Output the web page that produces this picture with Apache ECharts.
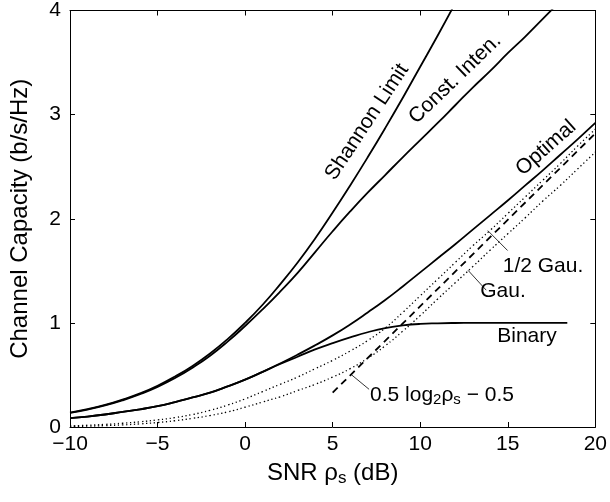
<!DOCTYPE html>
<html>
<head>
<meta charset="utf-8">
<script src="https://cdn.jsdelivr.net/npm/echarts@6/dist/echarts.min.js"></script>
<style>
  html, body { margin: 0; padding: 0; background: #fff; }
  #main { width: 610px; height: 502px; }
</style>
</head>
<body>
<div id="main"></div>
<script>
// x values (SNR in dB), one per dB
var snrDb = [-10, -9, -8, -7, -6, -5, -4, -3, -2, -1, 0, 1, 2, 3, 4, 5, 6, 7, 8, 9, 10,
             11, 12, 13, 14, 15, 16, 17, 18, 19, 20];

// capacities (b/s/Hz)
var shannonLimit = [0.138, 0.172, 0.212, 0.263, 0.323, 0.396, 0.485, 0.587, 0.706, 0.844, 1.0,
                    1.174, 1.37, 1.58, 1.81, 2.06, 2.32, 2.59, 2.87, 3.16, 3.46, 3.76, 4.07];
var constInten = [0.135, 0.168, 0.207, 0.256, 0.315, 0.385, 0.47, 0.57, 0.685, 0.82, 0.97,
                  1.13, 1.30, 1.48, 1.68, 1.88, 2.07, 2.25, 2.42, 2.59, 2.755, 2.92, 3.09,
                  3.26, 3.42, 3.59, 3.75, 3.92, 4.09];
var optimal = [0.085, 0.10, 0.12, 0.145, 0.17, 0.20, 0.24, 0.285, 0.33, 0.39, 0.455,
               0.53, 0.61, 0.695, 0.785, 0.88, 0.985, 1.10, 1.22, 1.35, 1.485, 1.62, 1.755,
               1.895, 2.035, 2.175, 2.32, 2.465, 2.615, 2.765, 2.92];
var halfGau = [0.01, 0.017, 0.025, 0.036, 0.05, 0.068, 0.09, 0.12, 0.16, 0.21, 0.27,
               0.34, 0.41, 0.48, 0.56, 0.64, 0.73, 0.83, 0.95, 1.10, 1.26, 1.42, 1.58,
               1.74, 1.89, 2.05, 2.21, 2.37, 2.53, 2.70, 2.86];
var gau = [0.005, 0.008, 0.013, 0.02, 0.03, 0.043, 0.06, 0.083, 0.11, 0.145, 0.19,
           0.24, 0.29, 0.35, 0.41, 0.48, 0.56, 0.66, 0.78, 0.92, 1.07, 1.23, 1.385,
           1.54, 1.70, 1.855, 2.01, 2.17, 2.32, 2.48, 2.64];

var binaryDb = [-10, -9, -8, -7, -6, -5, -4, -3, -2, -1, 0, 1, 2, 3, 4, 5, 6, 7, 8, 9, 10,
                11, 12, 13, 14, 15, 16, 17, 18, 18.4];
var binary = [0.085, 0.10, 0.12, 0.145, 0.17, 0.20, 0.24, 0.285, 0.33, 0.39, 0.455,
              0.53, 0.605, 0.675, 0.745, 0.805, 0.86, 0.91, 0.95, 0.975, 0.99, 0.996, 0.999,
              1, 1, 1, 1, 1, 1, 1];

// 0.5 log2(rho) - 0.5 asymptote (dashed)
var approxDb = [5, 20];
var approxCap = [0.33, 2.82];

// thin pointer lines for the labels, [dB, capacity]
var leaderHalfGau = [[13.86, 1.886], [14.99, 1.695]];
var leaderGau = [[12.73, 1.505], [13.77, 1.314]];
var leaderApprox = [[6.05, 0.505], [7.08, 0.362]];

var xTicks = { min: -10, max: 20, step: 5 };
var yTicks = { min: 0, max: 4, step: 1 };

function pairs(xs, ys) {
    var out = [];
    for (var i = 0; i < ys.length; i++) {
        out.push([xs[i], ys[i]]);
    }
    return out;
}

var FONT = '"Liberation Sans", Arial, Helvetica, sans-serif';

function curve(data, type, width, smooth) {
    return {
        type: 'line',
        data: data,
        smooth: smooth === undefined ? true : smooth,
        symbol: 'none',
        clip: true,
        silent: true,
        lineStyle: { color: '#000', width: width || 1.8, type: type || 'solid' }
    };
}

function leader(data) {
    return {
        type: 'line',
        data: data,
        symbol: 'none',
        silent: true,
        lineStyle: { color: '#000', width: 0.8 }
    };
}

function label(text, x, y, deg, rich) {
    return {
        type: 'text',
        x: x,
        y: y,
        rotation: deg * Math.PI / 180,
        style: {
            text: text,
            font: '21px ' + FONT,
            fill: '#000',
            align: 'center',
            verticalAlign: 'middle',
            rich: rich
        }
    };
}

var plotRich = {
    n: { fontSize: 21, fontFamily: FONT, color: '#000', lineHeight: 24, verticalAlign: 'middle' },
    sub: { fontSize: 15, fontFamily: FONT, color: '#000', lineHeight: 6, verticalAlign: 'bottom' }
};
var nameRich = {
    n: { fontSize: 24, fontFamily: FONT, color: '#000', lineHeight: 28, verticalAlign: 'middle' },
    sub: { fontSize: 17, fontFamily: FONT, color: '#000', lineHeight: 6, verticalAlign: 'bottom' }
};

var axisCommon = {
    type: 'value',
    axisLine: { show: true, onZero: false, lineStyle: { color: '#000', width: 1 } },
    axisTick: { show: true, inside: true, length: 5, lineStyle: { color: '#000', width: 1 } },
    splitLine: { show: false }
};

var chart = echarts.init(document.getElementById('main'), null, { renderer: 'canvas' });

var option = {
    animation: false,
    backgroundColor: '#fff',
    grid: { left: 66, top: 7, width: 531, height: 420 },
    xAxis: [
        Object.assign({}, axisCommon, {
            position: 'bottom',
            min: xTicks.min, max: xTicks.max, interval: xTicks.step,
            name: '{n|SNR ρ}{sub|s}{n| (dB)}',
            nameLocation: 'middle',
            nameGap: 32,
            nameTextStyle: { rich: nameRich },
            axisLabel: {
                color: '#000', fontSize: 21, fontFamily: FONT, margin: 7,
                formatter: function (v) { return v < 0 ? '\u2212' + Math.abs(v) : String(v); }
            }
        }),
        Object.assign({}, axisCommon, {
            position: 'top',
            min: xTicks.min, max: xTicks.max, interval: xTicks.step,
            axisLabel: { show: false }
        })
    ],
    yAxis: [
        Object.assign({}, axisCommon, {
            position: 'left',
            min: yTicks.min, max: yTicks.max, interval: yTicks.step,
            name: 'Channel Capacity (b/s/Hz)',
            nameLocation: 'middle',
            nameGap: 38,
            nameTextStyle: { color: '#000', fontSize: 24, fontFamily: FONT },
            axisLabel: { color: '#000', fontSize: 21, fontFamily: FONT, margin: 9 }
        }),
        Object.assign({}, axisCommon, {
            position: 'right',
            min: yTicks.min, max: yTicks.max, interval: yTicks.step,
            axisLabel: { show: false }
        })
    ],
    series: [
        curve(pairs(snrDb, shannonLimit)),
        curve(pairs(snrDb, constInten)),
        curve(pairs(snrDb, optimal)),
        curve(pairs(binaryDb, binary)),
        curve(pairs(snrDb, halfGau), [1.3, 2.7], 1.3),
        curve(pairs(snrDb, gau), [1.3, 2.7], 1.3),
        curve(pairs(approxDb, approxCap), [7, 5], 1.8, false),
        leader(leaderHalfGau),
        leader(leaderGau),
        leader(leaderApprox)
    ],
    graphic: [
        label('Shannon Limit', 367, 122, 56.5),
        label('Const. Inten.', 455, 79, 44),
        label('Optimal', 546, 148, 41.6),
        label('1/2 Gau.', 543, 266, 0),
        label('Gau.', 503, 291, 0),
        label('Binary', 527, 336, 0),
        label('{n|0.5 log}{sub|2}{n|ρ}{sub|s}{n| \u2212 0.5}', 442, 395, 0, plotRich)
    ]
};

chart.setOption(option);
</script>
</body>
</html>
